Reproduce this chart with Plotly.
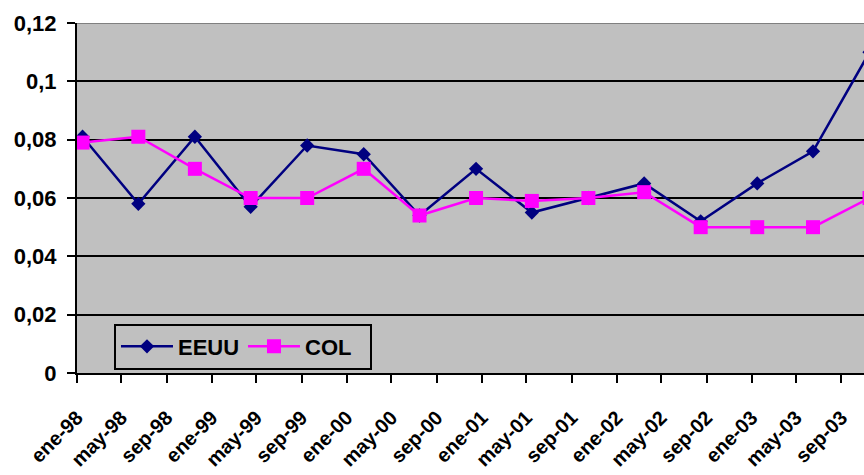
import pandas as pd
import plotly.graph_objects as go

# Observation months (every five months) and the two series
meses = ["1998-01", "1998-06", "1998-11", "1999-04", "1999-09", "2000-02",
         "2000-07", "2000-12", "2001-05", "2001-10", "2002-03", "2002-08",
         "2003-01", "2003-06", "2003-11"]
eeuu = [0.081, 0.058, 0.081, 0.057, 0.078, 0.075, 0.054, 0.070, 0.055,
        0.060, 0.065, 0.052, 0.065, 0.076, 0.110]
col = [0.079, 0.081, 0.070, 0.060, 0.060, 0.070, 0.054, 0.060, 0.059,
       0.060, 0.062, 0.050, 0.050, 0.050, 0.060]

# X-axis tick months and their Spanish labels
tick_meses = ["1998-01", "1998-05", "1998-09", "1999-01", "1999-05", "1999-09",
              "2000-01", "2000-05", "2000-09", "2001-01", "2001-05", "2001-09",
              "2002-01", "2002-05", "2002-09", "2003-01", "2003-05", "2003-09"]
tick_text = ["ene-98", "may-98", "sep-98", "ene-99", "may-99", "sep-99",
             "ene-00", "may-00", "sep-00", "ene-01", "may-01", "sep-01",
             "ene-02", "may-02", "sep-02", "ene-03", "may-03", "sep-03"]

y_ticks = [0, 0.02, 0.04, 0.06, 0.08, 0.10, 0.12]
y_text = ["0", "0,02", "0,04", "0,06", "0,08", "0,1", "0,12"]

# points sit in the middle of their month
x_pts = pd.to_datetime(meses) + pd.Timedelta(days=15)
x_ticks = pd.to_datetime(tick_meses)

FONT = "Liberation Sans, Arial, sans-serif"

fig = go.Figure()
fig.add_trace(go.Scatter(
    x=x_pts, y=eeuu, name="EEUU", mode="lines+markers",
    line=dict(color="#000080", width=2.5),
    marker=dict(symbol="diamond", size=11, color="#000080"),
))
fig.add_trace(go.Scatter(
    x=x_pts, y=col, name="COL", mode="lines+markers",
    line=dict(color="#FF00FF", width=2.5),
    marker=dict(symbol="square", size=14, color="#FF00FF"),
))

fig.update_layout(
    width=864, height=475,
    margin=dict(l=77, r=0, t=23, b=102, autoexpand=False),
    paper_bgcolor="white",
    plot_bgcolor="#C0C0C0",
    font=dict(family=FONT, size=20, color="black", weight="bold"),
    showlegend=True,
    legend=dict(
        orientation="h", x=0.047, y=0.01, xanchor="left", yanchor="bottom",
        bgcolor="#C0C0C0", bordercolor="black", borderwidth=2,
        itemwidth=52, entrywidth=60,
        font=dict(family=FONT, size=22, color="black", weight="bold"),
    ),
)

fig.update_xaxes(
    type="date", automargin=False,
    range=[pd.Timestamp("1998-01-01"), pd.Timestamp("2003-11-01")],
    tickvals=x_ticks, ticktext=tick_text, tickangle=-45,
    ticks="outside", ticklen=8, tickwidth=2, tickcolor="black",
    showline=True, linecolor="black", linewidth=2,
    showgrid=False, zeroline=False,
    ticklabelstandoff=15,
    tickfont=dict(family=FONT, size=20, color="black", weight="bold"),
)
fig.update_yaxes(
    range=[0, 0.12], automargin=False,
    tickvals=y_ticks, ticktext=y_text,
    ticks="outside", ticklen=8, tickwidth=2, tickcolor="black",
    showline=True, linecolor="black", linewidth=2,
    showgrid=True, gridcolor="black", gridwidth=2, zeroline=False,
    ticklabelstandoff=6,
    tickfont=dict(family=FONT, size=22, color="black", weight="bold"),
)

# grey border along the top of the plot area
fig.add_shape(type="line", xref="paper", yref="y", x0=0, x1=1, y0=0.12, y1=0.12,
              line=dict(color="#808080", width=2), layer="above")

fig.write_html("out.html")
